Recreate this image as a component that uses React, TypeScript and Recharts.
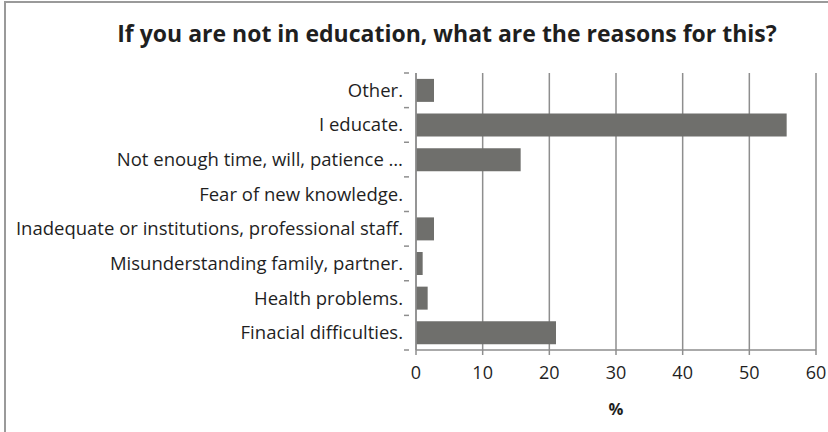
import { Bar, BarChart, CartesianGrid, XAxis, YAxis } from 'recharts';

const CATEGORIES = [
  'Other.',
  'I educate.',
  'Not enough time, will, patience …',
  'Fear of new knowledge.',
  'Inadequate or institutions, professional staff.',
  'Misunderstanding family, partner.',
  'Health problems.',
  'Finacial difficulties.',
];
const PERCENTS = [2.7, 55.6, 15.7, 0, 2.7, 1.0, 1.75, 21.0];
const X_TICKS = [0, 10, 20, 30, 40, 50, 60];

const FONT = '"Open Sans", "Liberation Sans", sans-serif';
const BAR_FILL = '#6f6f6c';
const GRID = '#8e8e8e';
const TEXT = '#1f1f1f';

const WIDTH = 828;
const HEIGHT = 432;
const X_AXIS_H = 82;
const MARGIN = { top: 73, right: 12, bottom: 0, left: 10 };
const PLOT_H = HEIGHT - MARGIN.top - X_AXIS_H;
const BAND = PLOT_H / CATEGORIES.length;

const data = CATEGORIES.map((name, i) => ({ name, value: PERCENTS[i] }));

function CategoryTick({ x, y, payload, index }: any) {
  return (
    <g>
      <text
        x={x - 5}
        y={y}
        dy="0.35em"
        textAnchor="end"
        fill={TEXT}
        fontSize={18.5}
        fontFamily={FONT}
      >
        {payload.value}
      </text>
      {index === 0 && (
        <line x1={x - 4} x2={x + 1} y1={y - BAND / 2} y2={y - BAND / 2} stroke={GRID} strokeWidth={1.5} />
      )}
      <line x1={x - 4} x2={x + 1} y1={y + BAND / 2} y2={y + BAND / 2} stroke={GRID} strokeWidth={1.5} />
    </g>
  );
}

export default function App() {
  return (
    <div style={{ position: 'absolute', left: 0, top: 0, width: WIDTH, height: HEIGHT, background: '#fff', overflow: 'hidden' }}>
      <div
        style={{
          position: 'absolute',
          left: 4,
          top: 1,
          width: 900,
          height: 500,
          border: '2px solid #9a9a9a',
        }}
      />
      <div
        style={{
          position: 'absolute',
          left: 0,
          width: 894,
          top: 17,
          textAlign: 'center',
          fontFamily: FONT,
          fontWeight: 700,
          fontSize: 23,
          color: TEXT,
        }}
      >
        If you are not in education, what are the reasons for this?
      </div>
      <div style={{ position: 'absolute', left: 0, top: 0 }}>
        <BarChart
          width={WIDTH}
          height={HEIGHT}
          data={data}
          layout="vertical"
          margin={MARGIN}
          barCategoryGap="17%"
        >
          <CartesianGrid horizontal={false} stroke={GRID} strokeWidth={1.5} />
          <XAxis
            type="number"
            domain={[0, 60]}
            ticks={X_TICKS}
            interval={0}
            stroke={GRID}
            strokeWidth={1.5}
            tickSize={5}
            tickMargin={11}
            tick={{ fill: TEXT, fontSize: 18, fontFamily: FONT }}
            label={{
              value: '%',
              position: 'insideBottom',
              offset: 17,
              fill: TEXT,
              fontSize: 16.5,
              fontWeight: 700,
              fontFamily: FONT,
            }}
            height={X_AXIS_H}
          />
          <YAxis
            type="category"
            dataKey="name"
            width={406}
            interval={0}
            stroke={GRID}
            strokeWidth={1.5}
            tickLine={false}
            tick={<CategoryTick />}
          />
          <Bar dataKey="value" fill={BAR_FILL} isAnimationActive={false} />
        </BarChart>
      </div>
    </div>
  );
}
